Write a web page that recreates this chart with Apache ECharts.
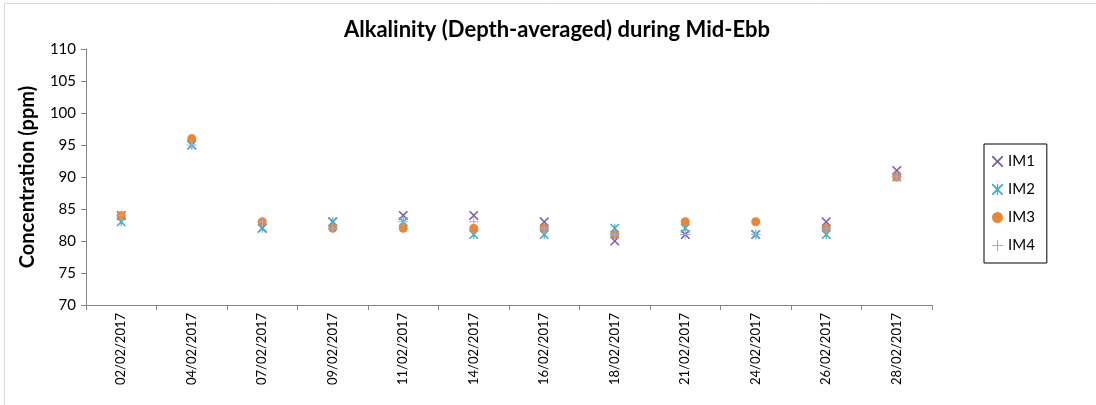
<!DOCTYPE html>
<html>
<head>
<meta charset="utf-8">
<script src="https://cdn.jsdelivr.net/npm/echarts@6/dist/echarts.min.js"></script>
<style>
  html, body { margin: 0; padding: 0; background: #fff; }
  #chart { width: 1096px; height: 405px; }
</style>
</head>
<body>
<div id="chart"></div>
<script>
const dates = ['02/02/2017', '04/02/2017', '07/02/2017', '09/02/2017', '11/02/2017', '14/02/2017',
  '16/02/2017', '18/02/2017', '21/02/2017', '24/02/2017', '26/02/2017', '28/02/2017'];
const im1 = [84, 95, 82, 83, 84, 84, 83, 80, 81, 81, 83, 91];
const im2 = [83, 95, 82, 83, 83, 81, 81, 82, 82, 81, 81, 90];
const im3 = [84, 96, 83, 82, 82, 82, 82, 81, 83, 83, 82, 90];
const im4 = [84, 95, 83, 82, 83, 83, 82, 81, 81, 81, 82, 90];

const crossPath = 'path://M0,0 L1.2,0 L5,3.8 L8.8,0 L10,0 L10,1.2 L6.2,5 L10,8.8 L10,10 L8.8,10 L5,6.2 L1.2,10 L0,10 L0,8.8 L3.8,5 L0,1.2 Z';
const starPath = crossPath + ' M4.4,0 L5.6,0 L5.6,10 L4.4,10 Z';
const plusPath = 'path://M4.5,0 L5.5,0 L5.5,4.5 L10,4.5 L10,5.5 L5.5,5.5 L5.5,10 L4.5,10 L4.5,5.5 L0,5.5 L0,4.5 L4.5,4.5 Z';

const font = 'Lato, "Open Sans", sans-serif';

function series(name, data, symbol, color, size) {
  return {
    name, type: 'scatter', data, symbol, symbolSize: size,
    itemStyle: { color, opacity: 1 },
    emphasis: { disabled: true }
  };
}

const chart = echarts.init(document.getElementById('chart'));
chart.setOption({
  animation: false,
  backgroundColor: '#fff',
  textStyle: { fontFamily: font },
  title: {
    text: 'Alkalinity (Depth-averaged) during Mid-Ebb',
    left: 552, top: 14, textAlign: 'center',
    textStyle: { fontSize: 22, fontWeight: 'bold', color: '#000', fontFamily: font }
  },
  grid: { left: 86, right: 164, top: 49, bottom: 100 },
  xAxis: {
    type: 'category', data: dates,
    axisLine: { lineStyle: { color: '#868686' } },
    axisTick: { show: true, alignWithLabel: false, length: 5, lineStyle: { color: '#868686' } },
    axisLabel: { rotate: 90, fontSize: 13, color: '#000', margin: 8, fontFamily: font },
    splitLine: { show: false }
  },
  yAxis: {
    type: 'value', min: 70, max: 110, interval: 5,
    name: 'Concentration (ppm)', nameLocation: 'middle', nameGap: 48,
    nameTextStyle: { fontSize: 20, fontWeight: 'bold', color: '#000', fontFamily: font },
    axisLine: { show: true, lineStyle: { color: '#868686' } },
    axisTick: { show: true, length: 5, lineStyle: { color: '#868686' } },
    axisLabel: { fontSize: 15, color: '#000', margin: 10, fontFamily: font },
    splitLine: { show: false }
  },
  legend: {
    orient: 'vertical', left: 984, top: 144,
    padding: [10, 12, 10, 8],
    borderColor: '#000', borderWidth: 1,
    itemWidth: 11, itemHeight: 11, itemGap: 13,
    textStyle: { fontSize: 15, color: '#000', fontFamily: font },
    data: ['IM1', 'IM2', 'IM3', 'IM4']
  },
  graphic: [{
    type: 'rect', left: 2, top: 1,
    shape: { width: 1092, height: 402 },
    style: { fill: 'none', stroke: '#d9d9d9', lineWidth: 1 },
    silent: true
  }],
  series: [
    series('IM1', im1, crossPath, '#7f5fa8', 9),
    series('IM2', im2, starPath, '#4aacc6', 9),
    series('IM3', im3, 'circle', '#e8873a', 9),
    series('IM4', im4, plusPath, '#9aaedb', 10)
  ]
});
</script>
</body>
</html>
